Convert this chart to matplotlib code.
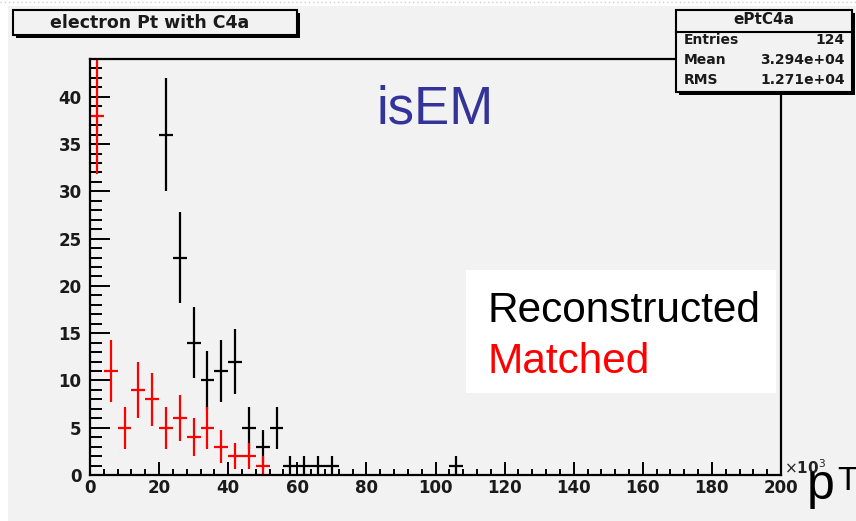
import numpy as np
import matplotlib
matplotlib.use("Agg")
import matplotlib.pyplot as plt
from matplotlib.patches import Rectangle
from matplotlib.lines import Line2D
from matplotlib.ticker import MultipleLocator

# Histogram contents (bin width 4 x10^3, centres in units of 10^3)
bin_width = 4.0
reco_centers = [22, 26, 30, 34, 38, 42, 46, 50, 54, 58, 62, 66, 70, 106]
reco_counts = [36, 23, 14, 10, 11, 12, 5, 3, 5, 1, 1, 1, 1, 1]
match_centers = [2, 6, 10, 14, 18, 22, 26, 30, 34, 38, 42, 46, 50]
match_counts = [38, 11, 5, 9, 8, 5, 6, 4, 5, 3, 2, 2, 1]

x_ticks = [0, 20, 40, 60, 80, 100, 120, 140, 160, 180, 200]
y_ticks = [0, 5, 10, 15, 20, 25, 30, 35, 40]

stats_name = "ePtC4a"
stats_rows = [("Entries", "124"), ("Mean", "3.294e+04"), ("RMS", "1.271e+04")]
title = "electron Pt with C4a"

W, H = 856, 521
BG = "#f2f2f2"
FONT = "Liberation Sans"
BOLD = "DejaVu Sans"

fig = plt.figure(figsize=(W / 100, H / 100), dpi=100)
fig.patch.set_facecolor("white")


def fx(px):
    return px / W


def fy(py):
    return 1 - py / H


def box(x0, y0, x1, y1, face, edge=None, lw=1.5, z=1):
    r = Rectangle((fx(x0), fy(y1)), fx(x1) - fx(x0), fy(y0) - fy(y1),
                  transform=fig.transFigure, facecolor=face,
                  edgecolor=edge if edge else "none", linewidth=lw, zorder=z)
    fig.add_artist(r)
    return r


# canvas background
box(8, 6, W + 5, H + 5, BG, z=0)
fig.add_artist(Line2D([0, 1], [fy(1.5), fy(1.5)], transform=fig.transFigure,
                      color="#d0d0d0", lw=1, ls=(0, (1, 2)), zorder=0))

ax = fig.add_axes([fx(90), fy(475), fx(781) - fx(90), fy(59) - fy(475)])
ax.set_facecolor(BG)
ax.set_xlim(0, 200)
ax.set_ylim(0, 44)
for s in ax.spines.values():
    s.set_linewidth(1.6)
    s.set_color("black")


def draw_hist(centers, counts, color):
    c = np.asarray(centers, float)
    n = np.asarray(counts, float)
    err = np.sqrt(n)
    ax.errorbar(c, n, xerr=bin_width / 2, yerr=err, fmt="none",
                ecolor=color, elinewidth=1.6, capsize=0)


draw_hist(reco_centers, reco_counts, "black")
draw_hist(match_centers, match_counts, "#ff0000")

ax.set_xticks(x_ticks)
ax.set_yticks(y_ticks)
ax.xaxis.set_minor_locator(MultipleLocator(4))
ax.yaxis.set_minor_locator(MultipleLocator(1))
ax.tick_params(axis="x", which="major", direction="in", length=9.5, width=1.4,
               pad=3, top=False)
ax.tick_params(axis="x", which="minor", direction="in", length=4.3, width=1.4,
               top=False)
ax.tick_params(axis="y", which="major", direction="in", length=14.5, width=1.4,
               pad=6, right=False)
ax.tick_params(axis="y", which="minor", direction="in", length=8.4, width=1.4,
               right=False)
for lab in ax.get_xticklabels() + ax.get_yticklabels():
    lab.set_fontfamily(BOLD)
    lab.set_fontweight("bold")
    lab.set_fontsize(12)
    lab.set_color("#1a1a1a")

# x-axis exponent
fig.text(fx(784), fy(468), r"$\times$10$^{3}$", fontsize=11, fontweight="bold",
         family=BOLD, ha="left", va="center", color="#222222")

# title box
box(16, 13, 300, 38, "black", z=3)
box(13, 10, 297, 35, BG, edge="black", lw=1.5, z=4)
fig.text(fx(150), fy(22.5), title, fontsize=12.5, fontweight="bold", family=BOLD,
         ha="center", va="center", zorder=5, color="#1a1a1a")

# statistics box
box(679, 13, 855, 95, "black", z=3)
box(676, 10, 852, 92, BG, edge="black", lw=1.5, z=4)
fig.add_artist(Line2D([fx(676), fx(852)], [fy(31.5), fy(31.5)],
                      transform=fig.transFigure, color="black", lw=1.5, zorder=5))
fig.text(fx(764), fy(20), stats_name, fontsize=11, fontweight="bold",
         family=BOLD, ha="center", va="center", zorder=6, color="#1a1a1a")
for i, (k, v) in enumerate(stats_rows):
    yy = fy(40 + 20 * i)
    fig.text(fx(684), yy, k, fontsize=10, fontweight="bold", family=BOLD,
             ha="left", va="center", zorder=6, color="#1a1a1a")
    fig.text(fx(845), yy, v, fontsize=10, fontweight="bold", family=BOLD,
             ha="right", va="center", zorder=6, color="#1a1a1a")

# annotations
fig.text(fx(376), fy(124), "isEM", fontsize=38, family=FONT, color="#333399",
         ha="left", va="baseline")
box(466, 270, 776, 393, "white", z=2)
fig.text(fx(488), fy(322), "Reconstructed", fontsize=30.5, family=FONT,
         color="black", ha="left", va="baseline", zorder=3)
fig.text(fx(488), fy(373), "Matched", fontsize=30.5, family=FONT,
         color="#ff0000", ha="left", va="baseline", zorder=3)
fig.text(fx(807), fy(499), "p", fontsize=36, family=FONT, color="black",
         ha="left", va="baseline")
fig.text(fx(837), fy(490), "T", fontsize=24, family=FONT, color="black",
         ha="left", va="baseline")

fig.savefig("out.png", dpi=100, facecolor=fig.get_facecolor())
